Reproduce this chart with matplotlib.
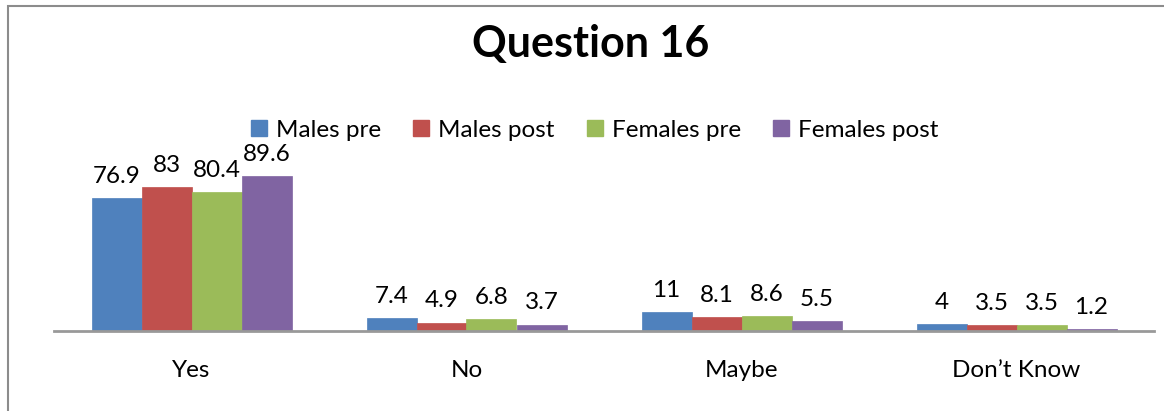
import numpy as np
import matplotlib
matplotlib.use("Agg")
import matplotlib.pyplot as plt
from matplotlib.patches import Rectangle
from matplotlib.lines import Line2D

plt.rcParams['font.family'] = ['Lato', 'DejaVu Sans']

# Data
categories = ["Yes", "No", "Maybe", "Don\u2019t Know"]
series_names = ["Males pre", "Males post", "Females pre", "Females post"]
males_pre = [76.9, 7.4, 11, 4]
males_post = [83, 4.9, 8.1, 3.5]
females_pre = [80.4, 6.8, 8.6, 3.5]
females_post = [89.6, 3.7, 5.5, 1.2]
colors = ["#4F81BD", "#C0504D", "#9BBB59", "#8064A2"]

all_series = [males_pre, males_post, females_pre, females_post]

W, H = 1164, 411
fig = plt.figure(figsize=(W / 100, H / 100), dpi=100)

# chart border (Excel chart area outline)
fig.add_artist(Rectangle((7.5 / W, -0.05), 1.2, (H - 6.5) / H + 0.05,
                         transform=fig.transFigure, fill=False,
                         edgecolor="#8c8c8c", linewidth=1.5))

# plot area: baseline at y=331 px, top (100) at y=158 px
left, right = 54 / W, 1154 / W
bottom, top = (H - 331) / H, (H - 158) / H
ax = fig.add_axes([left, bottom, right - left, top - bottom])

x = np.arange(len(categories))
bar_w = 200 / 275 / 4
for i, (vals, col) in enumerate(zip(all_series, colors)):
    pos = x + (i - 1.5) * bar_w
    ax.bar(pos, vals, width=bar_w, color=col, edgecolor=col, linewidth=0.5,
           label=series_names[i], zorder=2)
    for px, v in zip(pos, vals):
        ax.annotate(f"{v:g}", (px, v), xytext=(0, 8), textcoords="offset points",
                    ha="center", va="bottom", fontsize=17.5, color="black")

ax.set_xlim(-0.5, len(categories) - 0.5)
ax.set_ylim(0, 100)
ax.set_yticks([])
ax.set_xticks(x)
ax.set_xticklabels(categories, fontsize=17.5)
ax.tick_params(axis="x", length=0, pad=21)
for s in ["top", "right", "left"]:
    ax.spines[s].set_visible(False)
ax.spines["bottom"].set_color("#999999")
ax.spines["bottom"].set_linewidth(2)
ax.patch.set_alpha(0)

# legend
handles = [Line2D([], [], marker="s", linestyle="none", markersize=12,
                  markerfacecolor=c, markeredgecolor=c) for c in colors]
fig.legend(handles, series_names, loc="center", ncol=4,
           bbox_to_anchor=(594 / W, (H - 130) / H), frameon=False,
           fontsize=17.5, handlelength=0.8, handletextpad=0.3,
           columnspacing=1.25)

fig.text(591 / W, (H - 44) / H, "Question 16", ha="center", va="center",
         fontsize=31, fontweight="bold")

fig.savefig("out.png", dpi=100)
